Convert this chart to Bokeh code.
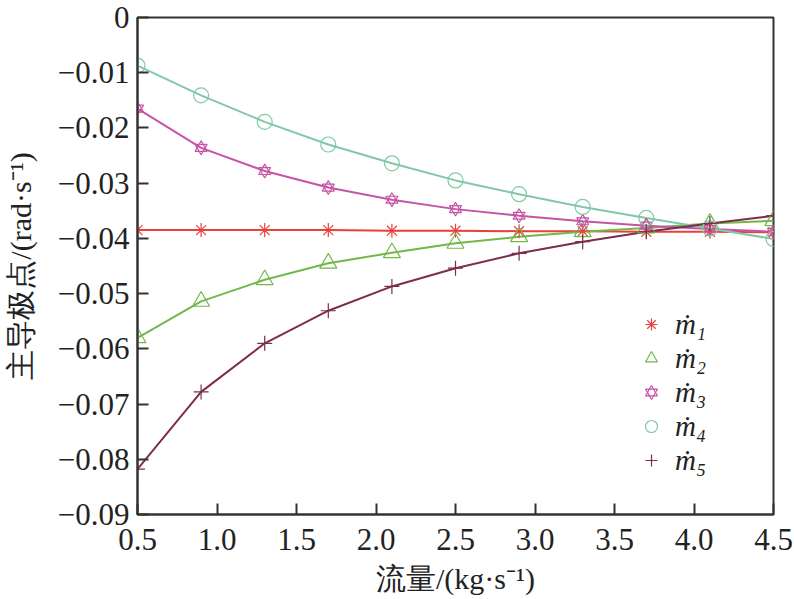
from bokeh.plotting import figure
from bokeh.models import Legend, LegendItem, FixedTicker, Range1d
from bokeh.embed import file_html
from bokeh.resources import INLINE

# ---- data ----
flow = [0.5, 0.9, 1.3, 1.7, 2.1, 2.5, 2.9, 3.3, 3.7, 4.1, 4.5]
m1 = [-0.0385, -0.0385, -0.0385, -0.0385, -0.0386, -0.0386, -0.0387, -0.0387, -0.0388, -0.0388, -0.0389]
m2 = [-0.0580, -0.0514, -0.0475, -0.0445, -0.0426, -0.0409, -0.0397, -0.0388, -0.0381, -0.0373, -0.0368]
m3 = [-0.0165, -0.0236, -0.0278, -0.0308, -0.0330, -0.0347, -0.0359, -0.0369, -0.0377, -0.0383, -0.0388]
m4 = [-0.0087, -0.0141, -0.0189, -0.0230, -0.0264, -0.0295, -0.0320, -0.0343, -0.0363, -0.0382, -0.0401]
m5 = [-0.0818, -0.0678, -0.0590, -0.0531, -0.0487, -0.0454, -0.0427, -0.0406, -0.0388, -0.0373, -0.0359]

series_labels = ["ṁ₁", "ṁ₂", "ṁ₃", "ṁ₄", "ṁ₅"]
series_colors = ["#e8413c", "#72b848", "#c653a6", "#80c8a8", "#7c2c4c"]

x_ticks = [0.5, 1.0, 1.5, 2.0, 2.5, 3.0, 3.5, 4.0, 4.5]
x_tick_labels = ["0.5", "1.0", "1.5", "2.0", "2.5", "3.0", "3.5", "4.0", "4.5"]
y_ticks = [0.0, -0.01, -0.02, -0.03, -0.04, -0.05, -0.06, -0.07, -0.08, -0.09]
y_tick_labels = ["0", "−0.01", "−0.02", "−0.03", "−0.04", "−0.05", "−0.06", "−0.07", "−0.08", "−0.09"]

x_label = "流量/(kg·s⁻¹)"
y_label = "主导极点/(rad·s⁻¹)"

FONT = "Liberation Serif"

p = figure(frame_width=636, frame_height=497, output_backend="svg", toolbar_location=None,
           x_range=Range1d(0.5, 4.5), y_range=Range1d(-0.09, 0.0),
           min_border_left=137, min_border_right=21, min_border_top=17, min_border_bottom=70)
p.grid.visible = False
p.outline_line_color = "#333333"
p.outline_line_width = 2
p.background_fill_color = "white"
p.border_fill_color = "white"

for ax in (p.xaxis[0], p.yaxis[0]):
    ax.axis_line_color = "#333333"
    ax.axis_line_width = 2
    ax.major_tick_in = 11
    ax.major_tick_out = 0
    ax.major_tick_line_color = "#333333"
    ax.major_tick_line_width = 2
    ax.minor_tick_line_color = None
    ax.major_label_text_font = FONT
    ax.major_label_text_font_size = "31px"
    ax.major_label_text_color = "#222222"
    ax.axis_label_text_font = FONT
    ax.axis_label_text_font_size = "30px"
    ax.axis_label_text_font_style = "normal"
    ax.axis_label_text_color = "#222222"

p.xaxis.ticker = FixedTicker(ticks=x_ticks)
p.xaxis.major_label_overrides = dict(zip(x_ticks, x_tick_labels))
p.yaxis.ticker = FixedTicker(ticks=y_ticks)
p.yaxis.major_label_overrides = dict(zip(y_ticks, y_tick_labels))
p.xaxis.axis_label = x_label
p.yaxis.axis_label = y_label
p.xaxis.major_label_standoff = 14
p.xaxis.axis_label_standoff = 9
p.yaxis.major_label_standoff = 8
p.yaxis.axis_label_standoff = 18

series = [m1, m2, m3, m4, m5]
marker_renderers = []
for i, ys in enumerate(series):
    c = series_colors[i]
    p.line(flow, ys, line_color=c, line_width=2)
for i, ys in enumerate(series):
    c = series_colors[i]
    if i == 0:
        r = [p.scatter(flow, ys, marker="asterisk", size=14, line_color=c, line_width=1.2)]
    elif i == 1:
        r = [p.scatter(flow, ys, marker="triangle", size=17, line_color=c, fill_color=None, line_width=1.2)]
    elif i == 2:
        r = [p.scatter(flow, ys, marker="triangle", size=12, line_color=c, fill_color=None, line_width=1.2),
             p.scatter(flow, ys, marker="inverted_triangle", size=12, line_color=c, fill_color=None, line_width=1.2)]
    elif i == 3:
        r = [p.scatter(flow, ys, marker="circle", size=15, line_color=c, fill_color=None, line_width=1.2)]
    else:
        r = [p.scatter(flow, ys, marker="cross", size=15, line_color=c, line_width=1.2)]
    marker_renderers.append(r)

items = [LegendItem(label=series_labels[i], renderers=marker_renderers[i]) for i in range(5)]
legend = Legend(items=items, location=(499, 37))
legend.margin = 0
legend.padding = 0
legend.spacing = 0
legend.glyph_width = 30
legend.glyph_height = 34
legend.label_height = 34
legend.label_standoff = 9
legend.label_text_font = FONT
legend.label_text_font_size = "29px"
legend.label_text_font_style = "italic"
legend.label_text_color = "#222222"
legend.border_line_color = None
legend.background_fill_alpha = 0
p.add_layout(legend)

open("out.html", "w").write(file_html(p, INLINE))
